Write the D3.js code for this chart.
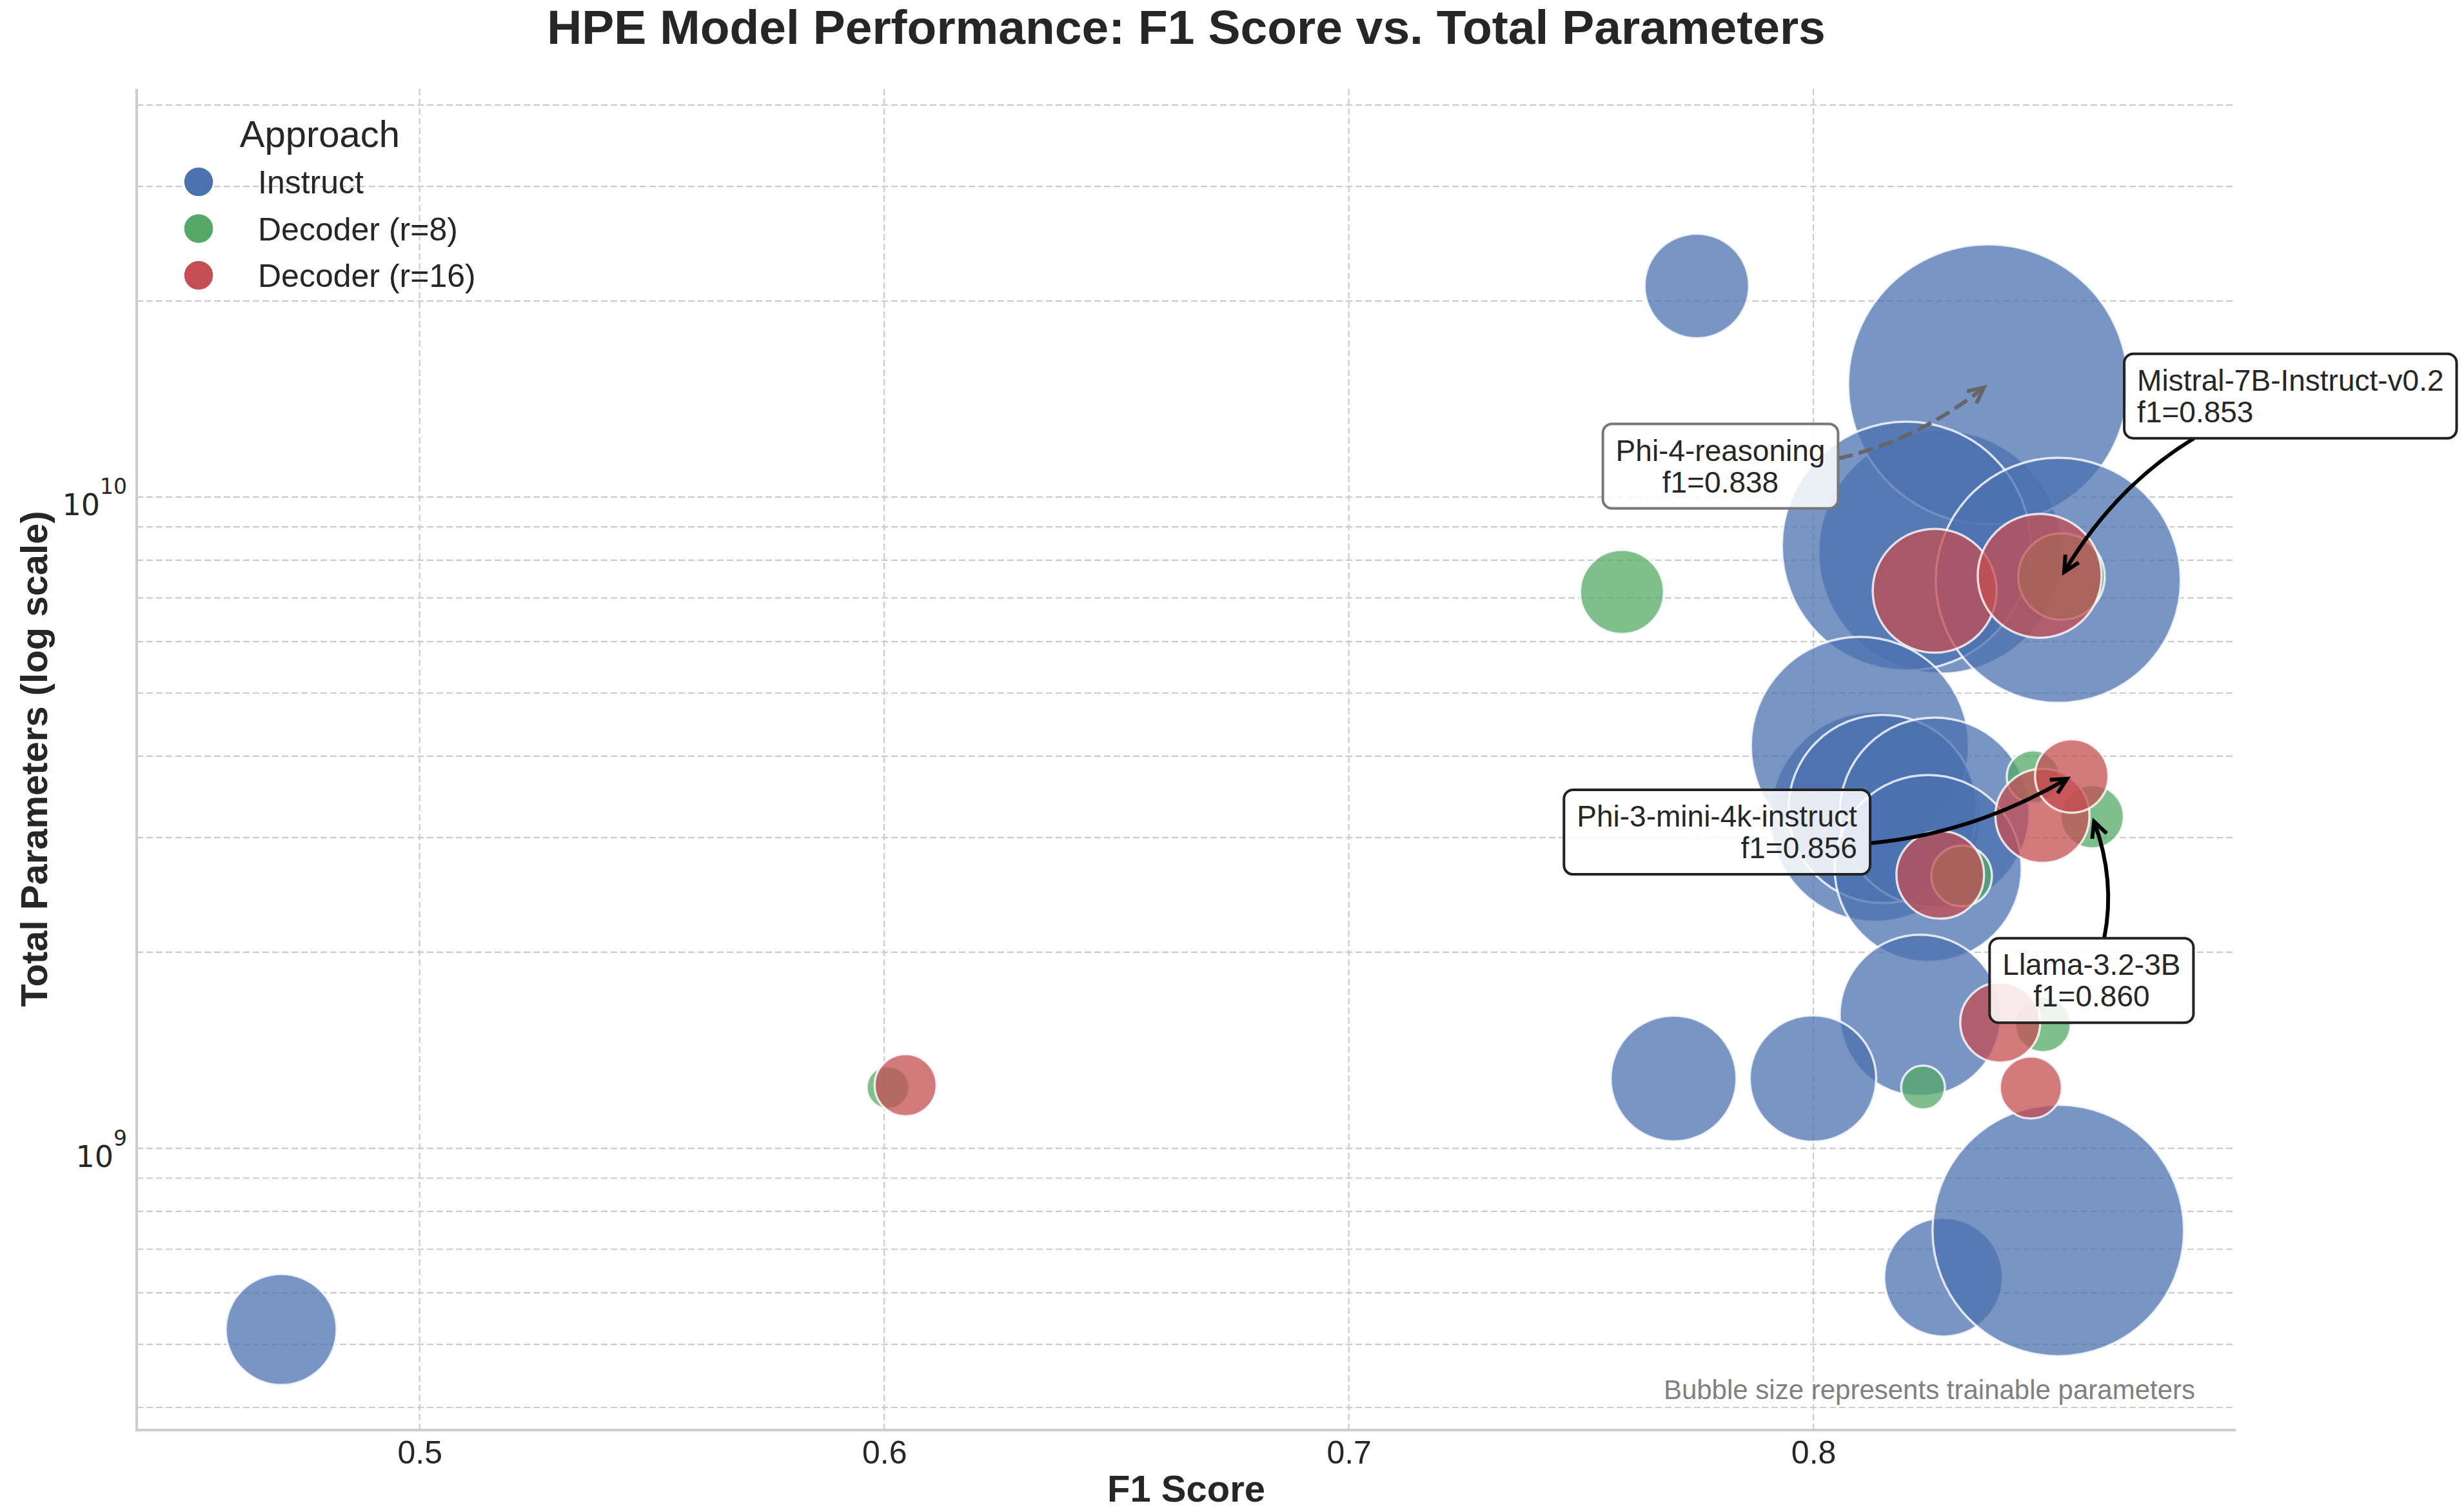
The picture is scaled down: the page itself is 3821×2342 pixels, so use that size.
<!DOCTYPE html>
<html>
<head>
<meta charset="utf-8">
<script src="https://cdn.jsdelivr.net/npm/d3@7/dist/d3.min.js"></script>
<style>
	body { margin: 0; background: #fff; }
	svg { display: block; font-family: "Liberation Sans", Arial, sans-serif; }
</style>
</head>
<body>
<svg id="chart"></svg>
<script>
const approaches = ['Instruct', 'Decoder (r=8)', 'Decoder (r=16)'];
const approachColors = ['#4C72B0', '#55A868', '#C44E52'];

// F1 score, total parameters, trainable parameters (relative bubble size), per approach
const instructF1 = [0.8273, 0.8133, 0.8376, 0.8200, 0.8527, 0.8100, 0.8149, 0.8261,
	0.8247, 0.8230, 0.4702, 0.7749, 0.7699, 0.7999, 0.8280, 0.8527];
const instructParams = [8.24e9, 3.23e9, 1.49e10, 8.41e9, 7.45e9, 4.15e9, 3.32e9, 3.28e9,
	2.69e9, 1.60e9, 5.27e8, 2.11e10, 1.28e9, 1.28e9, 6.34e8, 7.48e8];
const instructTrainable = [11150, 8290, 14700, 11630, 11270, 8920, 6650, 6750,
	6560, 4880, 2310, 2050, 2970, 3000, 2640, 11870];

const decoderR8F1 = [0.7588, 0.8534, 0.8473, 0.8600, 0.8319, 0.8494, 0.8236, 0.6008];
const decoderR8Params = [7.15e9, 7.55e9, 3.72e9, 3.23e9, 2.62e9, 1.55e9, 1.24e9, 1.24e9];
const decoderR8Trainable = [1320, 1400, 525, 750, 690, 580, 360, 340];

const decoderR16F1 = [0.8261, 0.8487, 0.8273, 0.8493, 0.8556, 0.8402, 0.8468, 0.6046];
const decoderR16Params = [7.18e9, 7.57e9, 2.63e9, 3.24e9, 3.73e9, 1.56e9, 1.24e9, 1.25e9];
const decoderR16Trainable = [2880, 2880, 1440, 1660, 1010, 1200, 720, 720];

const xTicks = [0.5, 0.6, 0.7, 0.8];
const yMajorTicks = [1e9, 1e10];

// annotated best models: label, approach index, point index
const annoModels = ['Phi-4-reasoning', 'Mistral-7B-Instruct-v0.2', 'Phi-3-mini-4k-instruct', 'Llama-3.2-3B'];
const annoApproach = [0, 1, 2, 1];
const annoIndex = [2, 1, 4, 3];

// layout of annotation boxes (offset of box centre from the point, in px)
const annoLayout = [
	{ dx: -415, dy: 127, align: 'middle', edge: '#777777', line: '#666666', dash: '23,10' },
	{ dx: 355, dy: -280, align: 'start', edge: '#222222', line: '#000000', dash: null },
	{ dx: -550, dy: 87, align: 'end', edge: '#222222', line: '#000000', dash: null },
	{ dx: -1, dy: 254, align: 'middle', edge: '#222222', line: '#000000', dash: null }
];

const width = 3821, height = 2342;
const plot = { left: 212, right: 3467, top: 138, bottom: 2216 };
const textColor = '#262626';

const xScale = d3.scaleLinear()
	.domain([0.4391, 0.8909])
	.range([plot.left, plot.right]);

const yScale = d3.scaleLog()
	.domain([3.71e8, 4.233e10])
	.range([plot.bottom, plot.top]);

const rScale = d3.scaleSqrt()
	.domain([0, 14700])
	.range([0, 217]);

const series = [
	{ f1: instructF1, params: instructParams, size: instructTrainable },
	{ f1: decoderR8F1, params: decoderR8Params, size: decoderR8Trainable },
	{ f1: decoderR16F1, params: decoderR16Params, size: decoderR16Trainable }
];

const svg = d3.select('#chart')
	.attr('width', width)
	.attr('height', height);

svg.append('rect')
	.attr('width', width)
	.attr('height', height)
	.attr('fill', '#ffffff');

// grid
const grid = svg.append('g').attr('class', 'grid');

grid.selectAll('.xgrid')
	.data(xTicks)
	.enter()
	.append('line')
	.attr('x1', d => xScale(d))
	.attr('x2', d => xScale(d))
	.attr('y1', plot.top)
	.attr('y2', plot.bottom)
	.attr('stroke', '#cccccc')
	.attr('stroke-width', 2.2)
	.attr('stroke-dasharray', '10,5');

grid.selectAll('.ygrid')
	.data(yScale.ticks())
	.enter()
	.append('line')
	.attr('x1', plot.left)
	.attr('x2', plot.right)
	.attr('y1', d => yScale(d))
	.attr('y2', d => yScale(d))
	.attr('stroke', '#cccccc')
	.attr('stroke-width', 2.2)
	.attr('stroke-dasharray', '10,5');

// bubbles
const points = [];
series.forEach((s, k) => {
	s.f1.forEach((v, i) => {
		points.push({ k: k, x: xScale(v), y: yScale(s.params[i]), r: rScale(s.size[i]) });
	});
});

svg.append('g')
	.attr('class', 'bubbles')
	.selectAll('circle')
	.data(points)
	.enter()
	.append('circle')
	.attr('cx', d => d.x)
	.attr('cy', d => d.y)
	.attr('r', d => d.r)
	.attr('fill', d => approachColors[d.k])
	.attr('fill-opacity', 0.75)
	.attr('stroke', '#ffffff')
	.attr('stroke-opacity', 0.8)
	.attr('stroke-width', 3.5);

// spines
svg.append('line')
	.attr('x1', plot.left).attr('x2', plot.left)
	.attr('y1', plot.top).attr('y2', plot.bottom + 2)
	.attr('stroke', '#cccccc').attr('stroke-width', 4);
svg.append('line')
	.attr('x1', plot.left - 2).attr('x2', plot.right)
	.attr('y1', plot.bottom + 2).attr('y2', plot.bottom + 2)
	.attr('stroke', '#cccccc').attr('stroke-width', 4);

// x axis
const xAxis = svg.append('g')
	.attr('transform', `translate(0,${plot.bottom})`)
	.call(d3.axisBottom(xScale).tickValues(xTicks).tickSize(0).tickFormat(d3.format('.1f')));
xAxis.select('.domain').remove();
xAxis.selectAll('text')
	.attr('y', 54)
	.attr('dy', null)
	.attr('fill', textColor)
	.style('font-family', '"Liberation Sans", Arial, sans-serif')
	.style('font-size', '50px');

// y axis (10^n labels)
const yAxis = svg.append('g')
	.attr('transform', `translate(${plot.left},0)`)
	.call(d3.axisLeft(yScale).tickValues(yMajorTicks).tickSize(0).tickFormat(''));
yAxis.select('.domain').remove();
yAxis.selectAll('.tick').each(function(d) {
	const t = d3.select(this).append('text')
		.attr('x', -15)
		.attr('y', 28)
		.attr('text-anchor', 'end')
		.attr('fill', textColor)
		.style('font-family', '"DejaVu Sans", sans-serif')
		.style('font-size', '46px');
	t.append('tspan').text('10');
	t.append('tspan')
		.attr('dy', -33)
		.style('font-size', '33px')
		.text(Math.round(Math.log10(d)));
});

// axis labels and title
svg.append('text')
	.attr('x', (plot.left + plot.right) / 2)
	.attr('y', 2329)
	.attr('text-anchor', 'middle')
	.attr('fill', textColor)
	.style('font-size', '58px')
	.style('font-weight', 'bold')
	.text('F1 Score');

svg.append('text')
	.attr('transform', `translate(73,${(plot.top + plot.bottom) / 2}) rotate(-90)`)
	.attr('text-anchor', 'middle')
	.attr('fill', textColor)
	.style('font-size', '58px')
	.style('font-weight', 'bold')
	.text('Total Parameters (log scale)');

svg.append('text')
	.attr('x', (plot.left + plot.right) / 2)
	.attr('y', 68)
	.attr('text-anchor', 'middle')
	.attr('fill', textColor)
	.style('font-size', '75px')
	.style('font-weight', 'bold')
	.text('HPE Model Performance: F1 Score vs. Total Parameters');

svg.append('text')
	.attr('x', 3404)
	.attr('y', 2170)
	.attr('text-anchor', 'end')
	.attr('fill', '#808080')
	.style('font-size', '42px')
	.text('Bubble size represents trainable parameters');

// legend
const legend = svg.append('g').attr('class', 'legend');
legend.append('text')
	.attr('x', 496)
	.attr('y', 228)
	.attr('text-anchor', 'middle')
	.attr('fill', textColor)
	.style('font-size', '58px')
	.text('Approach');

const legendItems = legend.selectAll('.item')
	.data(approaches)
	.enter()
	.append('g')
	.attr('transform', (d, i) => `translate(0,${282 + i * 72.5})`);
legendItems.append('circle')
	.attr('cx', 308)
	.attr('cy', 0)
	.attr('r', 23)
	.attr('fill', (d, i) => approachColors[i])
	.attr('stroke', '#ffffff')
	.attr('stroke-width', 1.5);
legendItems.append('text')
	.attr('x', 400)
	.attr('y', 18)
	.attr('fill', textColor)
	.style('font-size', '50px')
	.text(d => d);

// annotations
const bez = (p0, p1, p2, t) => [
	(1 - t) * (1 - t) * p0[0] + 2 * t * (1 - t) * p1[0] + t * t * p2[0],
	(1 - t) * (1 - t) * p0[1] + 2 * t * (1 - t) * p1[1] + t * t * p2[1]
];

const annoG = svg.append('g').attr('class', 'annotations');
const padX = 20, padY = 15, lineGap = 49, rad = 0.2;

annoModels.forEach((name, a) => {
	const k = annoApproach[a], i = annoIndex[a];
	const s = series[k];
	const px = xScale(s.f1[i]), py = yScale(s.params[i]);
	const lay = annoLayout[a];
	const cx = px + lay.dx, cy = py + lay.dy;

	const g = annoG.append('g');
	const box = g.append('rect');
	const t = g.append('text')
		.attr('text-anchor', lay.align)
		.attr('fill', textColor)
		.style('font-size', '46px');
	t.append('tspan').attr('x', 0).attr('y', 0).text(name);
	t.append('tspan').attr('x', 0).attr('y', lineGap).text('f1=' + s.f1[i].toFixed(3));

	const bb = t.node().getBBox();
	const bw = bb.width + 2 * padX, bh = bb.height + 2 * padY;
	const tx = cx - (bb.x + bb.width / 2), ty = cy - (bb.y + bb.height / 2);
	t.attr('transform', `translate(${tx},${ty})`);
	const bx = cx - bw / 2, by = cy - bh / 2;
	box.attr('x', bx).attr('y', by)
		.attr('width', bw).attr('height', bh)
		.attr('rx', 14).attr('ry', 14)
		.attr('fill', '#ffffff').attr('fill-opacity', 0.85)
		.attr('stroke', lay.edge).attr('stroke-width', 4);

	// arc3 connection from box centre to the point, clipped at the box
	const p0 = [cx, cy], p2 = [px, py];
	const p1 = [(cx + px) / 2 - rad * (py - cy), (cy + py) / 2 + rad * (px - cx)];
	const inside = p => p[0] > bx && p[0] < bx + bw && p[1] > by && p[1] < by + bh;
	let lo = 0, hi = 1;
	for (let n = 0; n < 40; n++) {
		const mid = (lo + hi) / 2;
		if (inside(bez(p0, p1, p2, mid))) lo = mid; else hi = mid;
	}
	const t0 = hi;
	let t1 = 1;
	while (t1 > t0) {
		const q = bez(p0, p1, p2, t1);
		if (Math.hypot(q[0] - px, q[1] - py) >= 8) break;
		t1 -= 0.001;
	}
	const a0 = bez(p0, p1, p2, t0), a1 = bez(p0, p1, p2, t1);
	const c = [
		(1 - t0) * (1 - t1) * p0[0] + (t0 * (1 - t1) + t1 * (1 - t0)) * p1[0] + t0 * t1 * p2[0],
		(1 - t0) * (1 - t1) * p0[1] + (t0 * (1 - t1) + t1 * (1 - t0)) * p1[1] + t0 * t1 * p2[1]
	];
	const path = d3.path();
	path.moveTo(a0[0], a0[1]);
	path.quadraticCurveTo(c[0], c[1], a1[0], a1[1]);
	const arrow = annoG.insert('path', ':first-child')
		.attr('d', path.toString())
		.attr('fill', 'none')
		.attr('stroke', lay.line)
		.attr('stroke-width', 6)
		.attr('stroke-linecap', 'butt');
	if (lay.dash) arrow.attr('stroke-dasharray', lay.dash);

	const ang = Math.atan2(a1[1] - c[1], a1[0] - c[0]);
	const hl = 24, hw = 12;
	const back = [a1[0] - hl * Math.cos(ang), a1[1] - hl * Math.sin(ang)];
	const h1 = [back[0] + hw * Math.sin(ang), back[1] - hw * Math.cos(ang)];
	const h2 = [back[0] - hw * Math.sin(ang), back[1] + hw * Math.cos(ang)];
	annoG.insert('path', ':first-child')
		.attr('d', `M${h1[0]},${h1[1]}L${a1[0]},${a1[1]}L${h2[0]},${h2[1]}`)
		.attr('fill', 'none')
		.attr('stroke', lay.line)
		.attr('stroke-width', 6)
		.attr('stroke-linejoin', 'miter');
});
</script>
</body>
</html>
